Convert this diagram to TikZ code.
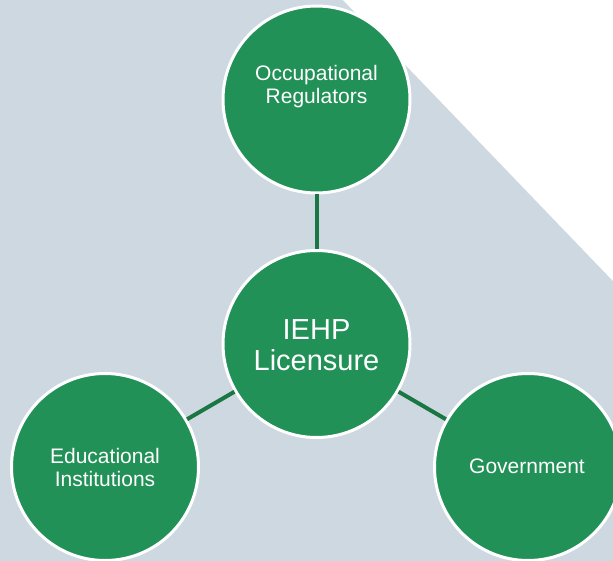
\documentclass[tikz,border=0pt]{standalone}
\usepackage{fontspec}
\setmainfont{Liberation Sans}
\definecolor{bgblue}{RGB}{206,216,224}
\definecolor{discgreen}{RGB}{33,145,87}
\definecolor{linkgreen}{RGB}{26,118,66}
\begin{document}
\begin{tikzpicture}[x=1pt,y=-1pt,
  disc/.style={circle,fill=discgreen,draw=white,line width=3pt,
    inner sep=0pt,minimum size=187pt},
  smalltxt/.style={text=white,align=center,inner sep=0pt,
    font=\fontsize{21}{23}\selectfont},
  bigtxt/.style={text=white,align=center,inner sep=0pt,
    font=\fontsize{29}{31}\selectfont},
  link/.style={draw=linkgreen,line width=4pt}]
  % backdrop with the white corner wedge
  \fill[bgblue] (0,0) rectangle (613,561);
  \fill[white] (343,0) -- (613,0) -- (613,281) -- cycle;
  \useasboundingbox (0,0) rectangle (613,561);
  % hub and satellites
  \node[disc] (hub) at (316.5,344) {};
  \node[disc] (occ) at (316.5,99.5) {};
  \node[disc] (edu) at (105,467) {};
  \node[disc] (gov) at (528,467) {};
  % labels
  \node[bigtxt] (hubtxt) at (316.5,345) {IEHP\\Licensure};
  \node[smalltxt] (occtxt) at (316.5,87) {Occupational\\Regulators};
  \node[smalltxt] (edutxt) at (105,467) {Educational\\Institutions};
  \node[smalltxt] (govtxt) at (527,466) {Government};
  % connectors
  \draw[link] (hub) -- (occ);
  \draw[link] (hub) -- (edu);
  \draw[link] (hub) -- (gov);
\end{tikzpicture}
\end{document}
